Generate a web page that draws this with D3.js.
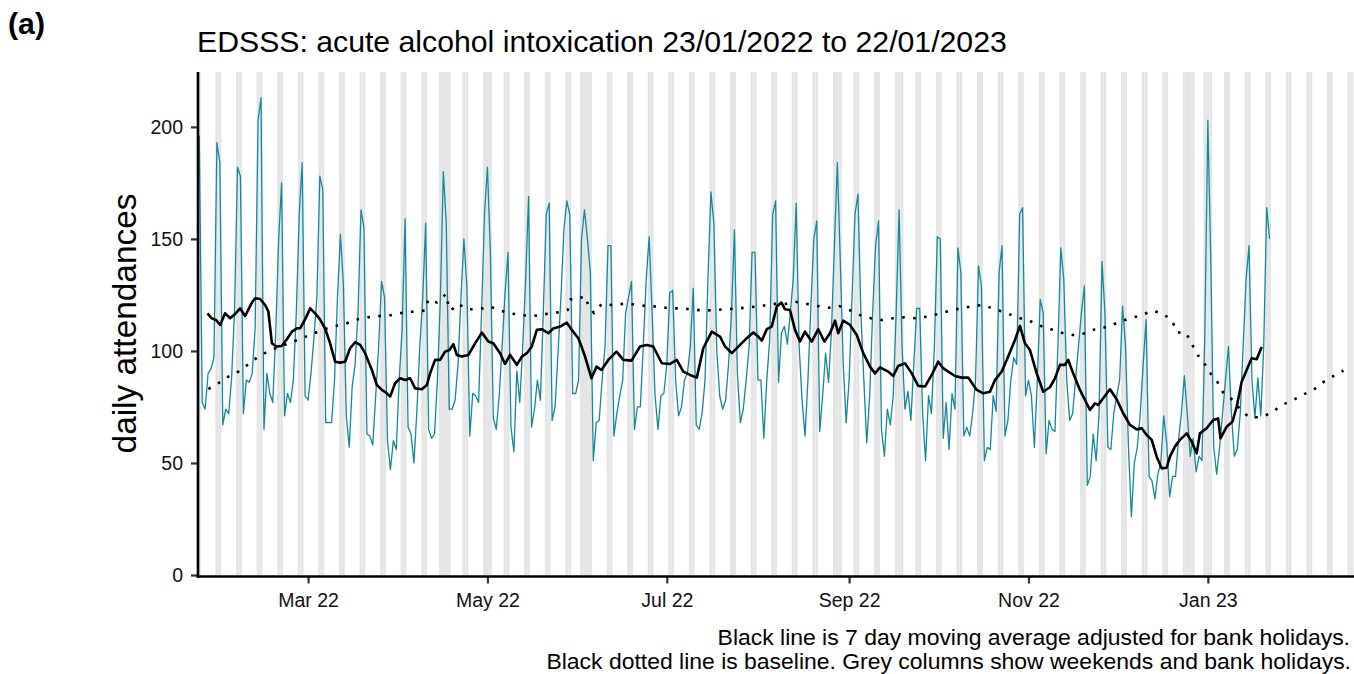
<!DOCTYPE html>
<html><head><meta charset="utf-8">
<script src="https://cdn.jsdelivr.net/npm/d3@7"></script>
<style>
body{margin:0;background:#fff;}
svg{display:block;font-family:"Liberation Sans",Arial,sans-serif;}
</style>
</head><body>
<svg id="chart" width="1354" height="674"></svg>
<script>
// ---------------- data ----------------
const startDate = "2022-01-23";            // first day of the daily series
const axisEndDate = "2023-02-19";          // last day shown on the axis
const dailyValues = [
196,77,74,90,92,97,193, 184,67,74,72,88,118,182, 178,72,87,86,90,110,203,
213,65,90,81,77,108,150, 175,71,81,77,87,117,161, 184,80,78,90,106,124,178,
172,68,68,68,87,124,152, 130,71,57,84,94,117,163, 155,63,62,58,80,102,131,
124,60,47,60,56,87,110, 159,66,63,50,73,102,124, 157,65,61,63,87,124,180,
157,74,74,78,94,124,150, 129,62,81,80,77,117,161, 182,144,70,65,80,102,126,
144,66,55,91,77,102,132, 169,66,74,87,78,117,161, 166,69,75,99,124,154,167,
161,81,81,87,150,163,150, 135,51,68,69,87,102,147, 147,62,72,80,87,117,124,
131,65,75,75,102,132,151, 117,80,65,80,81,94,126, 127,87,71,75,87,90,102,
128,67,65,72,87,132,171, 157,100,80,74,78,94,117, 154,90,68,74,87,102,144,
144,87,87,61,87,105,161, 167,86,108,111,103,117,132, 166,102,78,62,87,120,150,
158,64,80,99,86,109,147, 184,140,94,68,87,124,161, 170,117,87,59,80,117,147,
158,65,53,74,67,80,117, 163,102,74,82,69,94,119, 119,72,51,80,72,102,151,
150,61,77,56,81,74,146, 135,62,66,62,72,87,138, 129,51,57,56,80,73,135,
147,62,69,87,97,94,161, 164,80,87,80,57,87,123, 117,54,69,65,64,102,146,
132,87,69,72,87,102,117, 129,40,44,63,51,72,140, 117,57,56,72,80,87,120,
102,57,26,50,57,72,94, 114,44,42,34,45,50,71, 59,35,44,44,60,72,89,
72,53,61,46,53,51,110, 203,140,57,45,57,72,87, 102,72,53,56,72,102,132,
147,87,70,88,71,102,164, 150
];
// 7 day moving average (day offset from startDate, value)
const maDays = [2.8,4.2,5.7,7.1,8.8,10.5,12.2,13.9,15.6,17.9,19,20.7,22.4,23.5,24.7,26.3,28,29.8,31.5,33.2,34.3,36,37.7,39.4,41.1,42.8,44.5,46.2,47.9,49.6,51.3,53,54.7,56.4,58.7,60.4,62.1,63.8,64.9,66.6,68.3,70,71.7,73.4,75.7,77.4,78.5,80.2,81.9,83.6,85.1,86.4,87.6,89.3,91.5,93.8,96.1,98.3,100,102.3,104,105.7,108,109.7,111.4,113.1,114.8,116.5,118.7,120.4,122.7,125,126.7,128.9,129.8,131.2,133.4,135.1,136.8,139.1,141.9,144.2,147,149.9,152.2,154.4,157.3,160.1,162.4,164.6,166.9,169.2,171.4,174.3,177.1,178.8,181.1,183.9,186.2,188.4,190.1,191.3,193,194.7,196.4,198,199.2,200.9,202.6,204.3,206,208.3,210.5,212.6,214.5,216.2,217.3,219,221.3,223.6,225.8,228.1,229.8,231.5,234.3,236,237.7,240,242.3,244.5,246.8,249.1,251.3,253,254.7,257,259.3,261.5,264.4,266.6,268.9,270.6,272.9,275.1,277.4,279.1,280.8,282.5,284.8,287,289.3,291,292.7,294.4,295.5,297.2,299.5,301.2,302.9,304.6,305.7,307.4,309.7,312,314.2,316.5,318.8,320.5,322.2,323.9,325.6,327.3,329,330.1,331.8,333.5,335.8,337.5,339.2,340.3,342.6,344.8,346.5,347.3,349.4,351.4,352.8,354.5,356.2,357.9,359.6,361.3];
const maValues = [116.8,114.6,113.8,111.6,116.8,114.6,116.5,119,115.6,121.6,123.5,123.2,120.5,117.6,103.4,102,102.2,105.2,108.6,110.1,110.1,114.1,119,116.8,114,110,103.4,95.2,94.8,95.2,101.2,103.9,102.7,99,91.5,84.8,82.6,81.1,79.6,85.6,87.8,87,87.8,83.3,82.9,84.8,90,96,96,99.7,100.4,103,98.2,97.5,98.2,103.4,108.2,104.2,103.4,99,94.2,98.2,93.8,97.5,99,102,109.4,109.7,107.9,110,110.9,112.6,109.4,105.7,102.7,97.5,87.8,93,91.5,96,99.7,96,95.7,102,102.7,102,94.5,94.2,96,90.8,89.3,88.1,101.2,108.6,106.4,102,99,102.7,105.7,108.2,106.4,104.6,109.7,110.9,119.8,121.6,118.6,118.3,109.4,104.2,108.6,104.2,109.7,104.2,107.9,113.5,107.9,113.5,111.6,107.1,99,93,90,92.7,90.8,88.8,93.3,94.5,90,84.4,84.1,89.3,95.2,92.3,90.8,88.8,88.1,88.1,82.6,81.1,81.8,87,90.8,97.5,104.9,111.2,103.4,100.4,90,81.8,83.8,87.8,93.8,93.8,96,90,82.6,78.1,73.7,76.6,75.9,78.9,82.9,78.4,72.2,67,65,65.5,62.5,60.3,52.8,47.6,47.9,52.8,57.3,60.3,63.2,59.5,54.3,63.2,65.5,69.2,69.9,61,66.2,68.5,75.1,86.3,91.5,96.7,96.3,101.8];
// baseline (day offset from startDate, value)
const baseDays = [3.1,6.5,9.9,13.3,16.7,20.1,23.7,27.5,31.2,35,38.4,42.2,45.9,49.6,53.3,57.3,61.3,65.2,69.1,73,76.8,77.9,80.8,83.9,84.7,85.6,87.9,91.3,95.2,98.9,102.3,105.7,109.7,113.6,117.4,121.2,125.3,126.3,128.4,131,132.5,134.2,136.9,140.2,144.2,148.2,152.2,156.1,159.9,163.5,167.5,171.4,175.4,179.4,183.3,187.3,191.1,195,199.2,202.6,206.5,210.5,214.1,217.7,221,224.7,228.4,232.1,236,239.8,243.6,247.5,251.3,255.3,259,262.9,266.6,270.6,274.3,278.2,282.3,285.9,289.6,293.6,297.6,301.5,305.2,309.1,312.9,316.7,320.5,324.2,328.1,331,332.6,335.5,337.5,339.2,341.7,343.7,346.2,348.2,351.6,354.1,357.1,361.1,364.9,368.1,371.7,375.2,378.9,382,385.7,389.1];
const baseValues = [83,85.6,88.5,90.8,94,97.5,100,102,103.7,105.7,107.6,109.5,111,112,114,115,115.6,116,117,117.6,118,123,121.6,125.4,120.5,118,121,118.6,118.6,119.8,118,116.8,116,115.6,116.4,117,118.3,123,122.8,124.6,120,117,121,120.5,121,120.8,120,119.8,119,119,118.6,118,118.3,118.6,119,119.5,120,121,121,122,121,120,119.3,120,118.3,116,114.6,113.8,114.6,115,114.6,115.3,116.5,118,119,120,120.5,118.6,117,115,113.5,111.3,109.7,108,107,108,110,110.8,113,114.6,116,118,116.4,113,108.2,108.2,103.4,98.7,94.8,90.3,86.3,81.4,78,73.7,70.4,70.4,72.6,75.9,77.8,80.4,82.6,85.9,88.8,91.2];
const bankHolidays = ["2022-04-15","2022-04-18","2022-05-02","2022-06-02","2022-06-03","2022-08-29","2022-09-19","2022-12-26","2022-12-27","2023-01-02"];
const xTickDates = ["2022-03-01","2022-05-01","2022-07-01","2022-09-01","2022-11-01","2023-01-01"];
const yTicks = [0,50,100,150,200];
const panelLabel = "(a)";
const titleText = "EDSSS: acute alcohol intoxication 23/01/2022 to 22/01/2023";
const yTitle = "daily attendances";
const footer1 = "Black line is 7 day moving average adjusted for bank holidays.";
const footer2 = "Black dotted line is baseline. Grey columns show weekends and bank holidays.";

// ---------------- chart ----------------
const parse = d3.utcParse("%Y-%m-%d");
const DAY = 864e5;
const start = parse(startDate);
const axisEnd = parse(axisEndDate);
const atDay = d => new Date(start.getTime() + d * DAY);

const pLeft = 197.5, pRight = 1354, pTop = 72, pBottom = 575;
const x = d3.scaleUtc()
  .domain([atDay(-0.6), new Date(axisEnd.getTime() + 0.7 * DAY)])
  .range([pLeft, pRight]);
const y = d3.scaleLinear().domain([0, 224.5]).range([pBottom, pTop]);

const svg = d3.select("#chart");
svg.append("rect").attr("width", 1354).attr("height", 674).attr("fill", "#fff");

svg.append("clipPath").attr("id", "clip").append("rect")
  .attr("x", pLeft).attr("y", pTop).attr("width", pRight - pLeft).attr("height", pBottom - pTop);
const plot = svg.append("g").attr("clip-path", "url(#clip)");

// grey columns for weekends and bank holidays
const bhSet = new Set(bankHolidays);
const fmtDay = d3.utcFormat("%Y-%m-%d");
const greyDays = d3.utcDay.range(start, d3.utcDay.offset(axisEnd, 1))
  .filter(d => d.getUTCDay() === 0 || d.getUTCDay() === 6 || bhSet.has(fmtDay(d)));
plot.append("g").selectAll("rect").data(greyDays).join("rect")
  .attr("x", d => x(new Date(d.getTime() - DAY / 2)))
  .attr("width", d => x(new Date(d.getTime() + DAY / 2)) - x(new Date(d.getTime() - DAY / 2)))
  .attr("y", pTop).attr("height", pBottom - pTop)
  .attr("fill", "#e5e5e5");

// daily series
const daily = dailyValues.map((v, i) => ({ date: d3.utcDay.offset(start, i), v }));
plot.append("path").datum(daily)
  .attr("fill", "none").attr("stroke", "#13879c").attr("stroke-width", 1.3)
  .attr("stroke-linejoin", "round")
  .attr("d", d3.line().x(d => x(d.date)).y(d => y(d.v)));

// baseline
const base = baseDays.map((d, i) => ({ date: atDay(d), v: baseValues[i] }));
plot.append("path").datum(base)
  .attr("fill", "none").attr("stroke", "#000").attr("stroke-width", 2.6)
  .attr("stroke-dasharray", "2.6,8.4")
  .attr("d", d3.line().x(d => x(d.date)).y(d => y(d.v)));

// moving average
const ma = maDays.map((d, i) => ({ date: atDay(d), v: maValues[i] }));
plot.append("path").datum(ma)
  .attr("fill", "none").attr("stroke", "#000").attr("stroke-width", 2.6)
  .attr("stroke-linejoin", "round")
  .attr("d", d3.line().x(d => x(d.date)).y(d => y(d.v)));

// axes
const yAxis = svg.append("g").attr("transform", `translate(${pLeft + 0.5},0)`)
  .call(d3.axisLeft(y).tickValues(yTicks).tickSize(7).tickPadding(8));
const xAxis = svg.append("g").attr("transform", `translate(0,${pBottom + 1.5})`)
  .call(d3.axisBottom(x).tickValues(xTickDates.map(parse)).tickFormat(d3.utcFormat("%b %y")).tickSize(7).tickPadding(10));
[yAxis, xAxis].forEach(g => {
  g.select(".domain").remove();
  g.selectAll(".tick line").attr("stroke", "#333").attr("stroke-width", 2.2);
  g.selectAll(".tick text").attr("fill", "#111").attr("font-size", 19.5)
    .attr("font-family", '"Liberation Sans",Arial,sans-serif');
});
svg.append("line").attr("x1", pLeft + 0.5).attr("x2", pLeft + 0.5).attr("y1", pTop).attr("y2", pBottom + 2.7)
  .attr("stroke", "#000").attr("stroke-width", 2.6);
svg.append("line").attr("x1", pLeft - 0.8).attr("x2", pRight).attr("y1", pBottom + 1.5).attr("y2", pBottom + 1.5)
  .attr("stroke", "#000").attr("stroke-width", 2.4);

// texts
function fit(sel, target) {
  const w = sel.node().getComputedTextLength();
  const fs = parseFloat(sel.attr("font-size"));
  sel.attr("font-size", fs * target / w);
  return sel;
}
fit(svg.append("text").attr("x", 8).attr("y", 34).attr("font-size", 30).attr("font-weight", "bold")
  .attr("fill", "#000").text(panelLabel), 37);
fit(svg.append("text").attr("x", 197).attr("y", 52).attr("font-size", 30)
  .attr("fill", "#000").text(titleText), 810);
fit(svg.append("text").attr("transform", "translate(136,323.5) rotate(-90)").attr("text-anchor", "middle")
  .attr("font-size", 33).attr("fill", "#000").text(yTitle), 260);
const f1 = fit(svg.append("text").attr("x", 1350).attr("y", 645).attr("text-anchor", "end")
  .attr("font-size", 22).attr("fill", "#000").text(footer1), 633);
svg.append("text").attr("x", 1351).attr("y", 669).attr("text-anchor", "end")
  .attr("font-size", f1.attr("font-size")).attr("fill", "#000").text(footer2);
</script>
</body></html>
